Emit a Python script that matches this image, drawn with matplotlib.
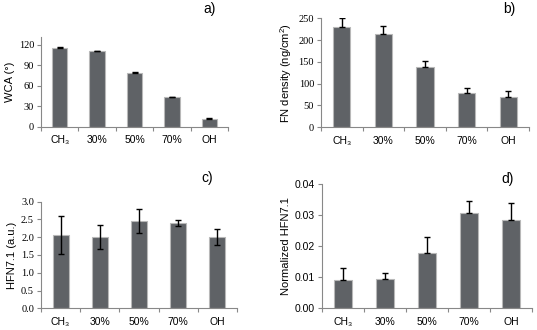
import numpy as np
import matplotlib
matplotlib.use('Agg')
import matplotlib.pyplot as plt

# data
cats = ['CH\u2083', '30%', '50%', '70%', 'OH']

wca = [115, 110, 78.5, 43, 12]
wca_err = [1.0, 1.0, 1.5, 1.0, 1.5]

fn = [229, 215, 138, 78, 70]
fn_err = [21, 18, 15, 12, 14]

hfn = [2.07, 2.0, 2.46, 2.41, 2.0]
hfn_err = [0.53, 0.34, 0.34, 0.08, 0.23]

norm = [0.0090, 0.0093, 0.0180, 0.0308, 0.0285]
norm_err = [0.0039, 0.0021, 0.0050, 0.0039, 0.0055]

BAR = '#5f6266'
EDGE = '#b8b8b8'
SPINE = '#888888'
SANS = ['Liberation Sans', 'DejaVu Sans']
SERIF = ['Liberation Serif', 'DejaVu Serif']

plt.rcParams['mathtext.fontset'] = 'custom'
plt.rcParams['mathtext.rm'] = 'Liberation Sans'
plt.rcParams['mathtext.it'] = 'Liberation Sans:italic'

W, H = 537, 330
fig = plt.figure(figsize=(W / 100, H / 100), dpi=100)


def px_axes(l, r, t, b):
    return fig.add_axes([l / W, 1 - b / H, (r - l) / W, (b - t) / H])


def panel(ax, vals, err, ylim, yticks, fmt, ylabel, tick_font, both=False):
    x = np.arange(len(vals))
    if both:
        yerr = err
    else:
        yerr = [np.zeros(len(err)), err]
    ax.bar(x, vals, width=0.41, color=BAR, edgecolor=EDGE, linewidth=0.8, zorder=2)
    ax.errorbar(x, vals, yerr=yerr, fmt='none', ecolor='black', elinewidth=1.0,
                capsize=2, capthick=1.0, zorder=3)
    ax.set_xlim(-0.5, len(vals) - 0.5)
    ax.set_ylim(*ylim)
    ax.set_yticks(yticks)
    ax.set_yticklabels([fmt % v for v in yticks], fontsize=7.5)
    for t in ax.get_yticklabels():
        t.set_family(tick_font)
    ax.set_xticks(np.arange(len(vals) + 1) - 0.5)
    ax.set_xticklabels([])
    ax.set_xticks(x, minor=True)
    ax.set_xticklabels(cats, minor=True, fontsize=7.5)
    for t in ax.get_xticklabels(minor=True):
        t.set_family(SANS)
    ax.tick_params(axis='x', which='minor', length=0, pad=6)
    ax.tick_params(axis='x', which='major', length=3, color=SPINE, direction='out')
    ax.tick_params(axis='y', length=3, color=SPINE, direction='out', pad=2)
    for s in ['top', 'right']:
        ax.spines[s].set_visible(False)
    for s in ['left', 'bottom']:
        ax.spines[s].set_color(SPINE)
        ax.spines[s].set_linewidth(0.8)
    ax.set_ylabel(ylabel, fontsize=8, family=SANS, labelpad=3)
    return ax


axa = px_axes(41, 228, 37, 127)
panel(axa, wca, wca_err, (0, 131), [0, 30, 60, 90, 120], '%d', 'WCA (°)', SERIF)
axb = px_axes(321, 529, 18.3, 127.3)
panel(axb, fn, fn_err, (0, 250), [0, 50, 100, 150, 200, 250], '%d',
      'FN density (ng/cm$^2$)', SERIF)
axc = px_axes(41, 237, 201.7, 308.3)
panel(axc, hfn, hfn_err, (0, 3.0), [0, 0.5, 1.0, 1.5, 2.0, 2.5, 3.0], '%.1f',
      'HFN7.1 (a.u.)', SERIF, both=True)
axd = px_axes(322, 532, 184.3, 308.3)
panel(axd, norm, norm_err, (0, 0.04), [0, 0.01, 0.02, 0.03, 0.04], '%.2f',
      'Normalized HFN7.1', SANS)

# panel tags
for label, xp, yp in [('a)', 210, 9.5), ('b)', 509, 8.5), ('c)', 207, 178), ('d)', 508, 179)]:
    fig.text(xp / W, 1 - yp / H, label, fontsize=10, family=SANS,
             ha='center', va='center')

fig.savefig('out.png', dpi=100)
